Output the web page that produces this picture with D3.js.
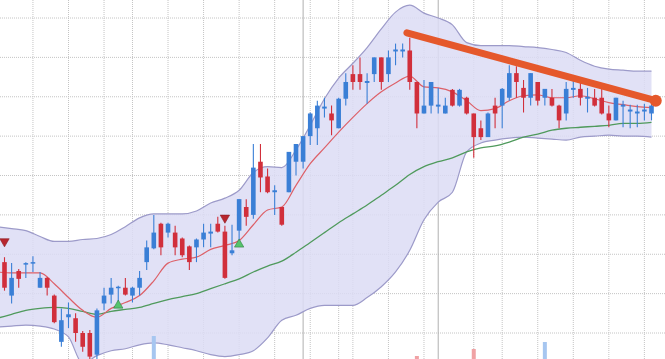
<!DOCTYPE html>
<html lang="en">
<head>
	<meta charset="UTF-8">
	<script src="https://d3js.org/d3.v7.min.js"></script>
	<style>
	html, body { margin: 0; padding: 0; background: #fff; }
	svg { display: block; }
	</style>
	<title>Candles with Bollinger bands</title>
</head>
<body>
	<div id="chart"></div>
	<script>
		// Daily candles, oldest first
		const open  = [129,112,78,103,110,111,86,96,78,31, 56,55,40,40,18,70,79,86,86,78,
		               86,112,126,151,142,142,136,128,127,135, 141,151,143,121,144,168,160,214,199,183,
		               168,183,214,214,240,248,268,263,248,278, 303,303,294,303,320,303,326,326,327,295,
		               263,271,270,263,287,271,279,263,248,239, 271,271,279,304,289,279,295,279,279,271,
		               263,287,288,278,279,279,263,256,270,265, 263,265,263];
		const high  = [131,117,111,105,112,118,102,97,79,65, 71,60,42,43,65,86,96,88,96,87,
		               103,134,160,152,152,149,137,129,136,151, 151,158,149,150,176,176,232,232,207,190,
		               168,224,232,240,264,276,279,271,279,304, 312,320,304,320,320,327,334,334,340,295,
		               297,295,289,279,288,288,280,263,256,264, 279,289,312,311,297,304,295,288,288,272,
		               295,296,295,289,288,288,271,279,276,272, 272,273,273];
		const low   = [109,83,70,86,96,102,86,78,50,26, 45,31,21,12,12,63,70,67,78,71,
		               78,104,125,119,137,119,117,104,112,127, 127,142,95,119,134,149,156,183,182,160,
		               149,183,200,207,231,231,259,241,248,271, 287,287,273,295,287,295,312,320,287,248,
		               263,263,263,263,270,270,262,218,236,239, 248,248,276,279,264,271,271,271,270,248,
		               256,279,271,264,270,262,249,256,249,248, 249,256,256];
		const close = [112,86,96,95,111,112,96,86,51,53, 59,40,26,16,63,78,86,87,79,86,
		               96,127,142,127,151,127,119,112,135,142, 143,143,96,124,176,158,208,198,183,185,
		               150,224,232,240,263,271,270,256,278,295, 295,295,296,320,295,320,328,328,295,263,
		               271,295,272,271,271,287,263,239,239,263, 263,288,304,295,279,304,276,288,271,256,
		               288,289,279,280,271,263,256,279,272,267, 265,267,271];

		// Indicator readings, taken every second day
		const bandDays = d3.range(0, 93, 2);
		const upperBand = [148,146,144,138,133,133,135,136,140,148, 157,161,161,161,164,172,177,185,203,209,
		                   208,226,251,278,299,314,330,349,366,373, 365,360,353,335,332,332,332,331,330,328,
		                   325,317,311,308,307,306,306];
		const lowerBand = [46,47,48,47,44,36,9,17,22,24, 28,30,28,25,22,18,16,18,22,35,
		                   53,58,65,68,68,68,76,87,102,124, 155,173,183,224,233,236,238,239,238,237,
		                   236,239,240,241,240,240,239];
		const fastMA = [102,101,101,101,90,76,63,56,65,71, 78,93,111,115,117,125,129,134,150,165,
		                168,190,212,228,244,259,273,285,294,301, 290,289,285,276,266,268,276,281,282,279,
		                279,281,278,274,272,270,269];
		const slowMA = [55,59,63,65,66,65,62,59,62,64, 66,70,74,77,80,85,90,95,102,108,
		                113,122,132,142,152,161,170,180,190,201, 209,214,218,224,228,230,234,239,242,246,
		                248,249,250,251,253,253,254];

		// Signals
		const sellDays = [1, 32], sellLevel = [133, 157];
		const buyDays = [17, 34], buyLevel = [68, 130];

		// Only the volume bars that reach into the picture
		const volDays = [22, 59, 67, 77];
		const volumes = [8.4, 6.4, 7.1, 7.8];

		// Hand-drawn resistance line
		const trendDays = [57.6, 92.6];
		const trendLevel = [345, 276];

		// Grid
		const priceGrid = [40, 80, 120, 160, 200, 240, 280, 320, 360];
		const weekLines = [5, 10, 15, 19, 24, 29, 34, 39, 44, 48, 50, 55, 60, 67, 71, 76, 81, 86, 91];
		const monthLines = [43, 62];

		const width = 665, height = 359;
		const upCol = "#3a7fd6", downCol = "#d12f3b";

		const svg = d3.select("#chart")
			.append("svg")
			.attr("width", width)
			.attr("height", height);

		const x = d3.scaleLinear([1, 92], [4.5, 651.5]);
		const y = d3.scaleLinear([40, 360], [333, 18]);
		const v = d3.scaleLinear([0, 10], [420, 320]);

		// grid lines
		const grid = svg.append("g");
		grid.selectAll(".h")
			.data(priceGrid)
			.join("line")
			.attr("x1", 0).attr("x2", width)
			.attr("y1", d => y(d)).attr("y2", d => y(d))
			.attr("stroke", "#c4c4c4")
			.attr("stroke-dasharray", "1,1");
		grid.selectAll(".w")
			.data(weekLines)
			.join("line")
			.attr("x1", d => x(d)).attr("x2", d => x(d))
			.attr("y1", 0).attr("y2", height)
			.attr("stroke", "#c4c4c4")
			.attr("stroke-dasharray", "1,1");
		grid.selectAll(".m")
			.data(monthLines)
			.join("line")
			.attr("x1", d => x(d)).attr("x2", d => x(d))
			.attr("y1", 0).attr("y2", height)
			.attr("stroke", "#b0b0b0");

		// Bollinger band
		const band = bandDays.map((d, i) => ({ d: d, hi: upperBand[i], lo: lowerBand[i] }));
		svg.append("path")
			.datum(band)
			.attr("fill", "#dcdcf4")
			.attr("fill-opacity", 0.85)
			.attr("d", d3.area()
				.x(p => x(p.d))
				.y0(p => y(p.lo))
				.y1(p => y(p.hi))
				.curve(d3.curveMonotoneX));
		[upperBand, lowerBand].forEach(series => {
			svg.append("path")
				.datum(series)
				.attr("fill", "none")
				.attr("stroke", "#9c9ac9")
				.attr("stroke-width", 1.2)
				.attr("d", d3.line()
					.x((p, i) => x(bandDays[i]))
					.y(p => y(p))
					.curve(d3.curveMonotoneX));
		});

		// volume
		svg.append("g")
			.selectAll("rect")
			.data(volDays)
			.join("rect")
			.attr("x", d => x(d) - 2)
			.attr("width", 4)
			.attr("y", (d, i) => v(volumes[i]))
			.attr("height", (d, i) => v(0) - v(volumes[i]))
			.attr("fill", d => close[d] >= open[d] ? "#a6c6f0" : "#f0a2a4");

		// moving averages
		const maLine = d3.line()
			.x((p, i) => x(bandDays[i]))
			.y(p => y(p))
			.curve(d3.curveMonotoneX);
		svg.append("path")
			.datum(slowMA)
			.attr("fill", "none")
			.attr("stroke", "#4f9a5c")
			.attr("stroke-width", 1.3)
			.attr("d", maLine);
		svg.append("path")
			.datum(fastMA)
			.attr("fill", "none")
			.attr("stroke", "#dd6068")
			.attr("stroke-width", 1.2)
			.attr("d", maLine);

		// candles
		const candles = svg.append("g")
			.selectAll("g")
			.data(d3.range(open.length))
			.join("g")
			.attr("fill", i => close[i] >= open[i] ? upCol : downCol)
			.attr("stroke", i => close[i] >= open[i] ? upCol : downCol);
		candles.append("line")
			.attr("x1", i => x(i)).attr("x2", i => x(i))
			.attr("y1", i => y(high[i])).attr("y2", i => y(low[i]))
			.attr("stroke-width", 1.1);
		candles.append("rect")
			.attr("x", i => x(i) - 2.3)
			.attr("width", 4.6)
			.attr("y", i => y(Math.max(open[i], close[i])))
			.attr("height", i => Math.max(1.5, Math.abs(y(open[i]) - y(close[i]))))
			.attr("stroke", "none");

		// buy / sell markers
		const tri = d3.symbol().type(d3.symbolTriangle).size(38);
		svg.append("g")
			.selectAll("path")
			.data(sellDays)
			.join("path")
			.attr("transform", (d, i) => "translate(" + x(d) + "," + y(sellLevel[i]) + ") rotate(180)")
			.attr("d", tri)
			.attr("fill", "#b8262e")
			.attr("stroke", "#8a1a20")
			.attr("stroke-width", 0.6);
		svg.append("g")
			.selectAll("path")
			.data(buyDays)
			.join("path")
			.attr("transform", (d, i) => "translate(" + x(d) + "," + y(buyLevel[i]) + ")")
			.attr("d", tri)
			.attr("fill", "#55c46c")
			.attr("stroke", "#2d7d3e")
			.attr("stroke-width", 0.6);

		// trend line
		svg.append("path")
			.datum(trendDays)
			.attr("fill", "none")
			.attr("stroke", "#e5582b")
			.attr("stroke-width", 7)
			.attr("stroke-linecap", "round")
			.attr("d", d3.line().x(d => x(d)).y((d, i) => y(trendLevel[i])));
		svg.append("circle")
			.attr("cx", x(trendDays[1]))
			.attr("cy", y(trendLevel[1]))
			.attr("r", 6)
			.attr("fill", "#e5582b");
	</script>
</body>
</html>
